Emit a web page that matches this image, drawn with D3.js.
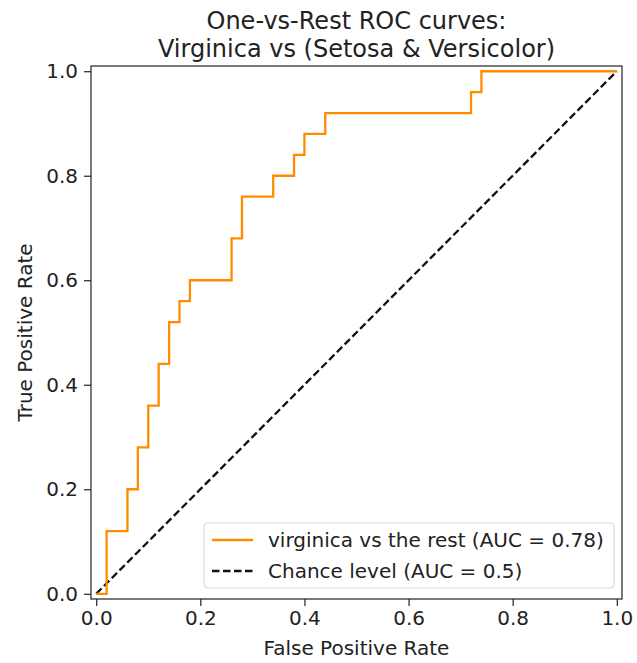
<!DOCTYPE html>
<html>
<head>
<meta charset="utf-8">
<script src="https://cdn.jsdelivr.net/npm/d3@7"></script>
<style>
  body { margin: 0; background: #fff; }
  svg text { font-family: 'DejaVu Sans', sans-serif; fill: #222; }
</style>
</head>
<body>
<svg class="roc" width="637" height="663"></svg>
<script>
/**********************
 Data (roc_curve output, virginica vs rest)
**********************/
var fpr = [0, 0.02, 0.02, 0.06, 0.06, 0.08, 0.08, 0.10, 0.10, 0.12, 0.12, 0.14, 0.14, 0.16, 0.16, 0.18, 0.18,
           0.26, 0.26, 0.28, 0.28, 0.34, 0.34, 0.38, 0.38, 0.40, 0.40, 0.44, 0.44, 0.72, 0.72, 0.74, 0.74, 1.0];
var tpr = [0, 0, 0.12, 0.12, 0.20, 0.20, 0.28, 0.28, 0.36, 0.36, 0.44, 0.44, 0.52, 0.52, 0.56, 0.56, 0.60,
           0.60, 0.68, 0.68, 0.76, 0.76, 0.80, 0.80, 0.84, 0.84, 0.88, 0.88, 0.92, 0.92, 0.96, 0.96, 1.0, 1.0];
var chanceX = [0, 1];
var chanceY = [0, 1];
var tickValues = [0, 0.2, 0.4, 0.6, 0.8, 1.0];
var legendLabels = ['virginica vs the rest (AUC = 0.78)', 'Chance level (AUC = 0.5)'];
var titleLines = ['One-vs-Rest ROC curves:', 'Virginica vs (Setosa & Versicolor)'];

/**********************
 Layout
**********************/
var svg = d3.select('svg.roc');
var padding = {t: 66, r: 15, b: 63, l: 91};
var chartWidth = 531;
var chartHeight = 533;
var fontSize = 20;

var xScale = d3.scaleLinear().domain([-0.01, 1.01]).range([0, chartWidth]);
var yScale = d3.scaleLinear().domain([-0.01, 1.01]).range([chartHeight, 0]);

var chartG = svg.append('g')
  .attr('transform', 'translate(' + [padding.l, padding.t] + ')');

// axes
var xAxisG = chartG.append('g')
  .attr('transform', 'translate(0,' + chartHeight + ')')
  .call(d3.axisBottom(xScale).tickValues(tickValues).tickFormat(d3.format('.1f')).tickSize(7).tickPadding(5));
var yAxisG = chartG.append('g')
  .call(d3.axisLeft(yScale).tickValues(tickValues).tickFormat(d3.format('.1f')).tickSize(7).tickPadding(6));

[xAxisG, yAxisG].forEach(function(g) {
  g.select('.domain').remove();
  g.selectAll('line').attr('stroke', '#222').attr('stroke-width', 1.2);
  g.selectAll('text').attr('font-size', fontSize).attr('font-family', 'DejaVu Sans').attr('fill', '#222');
});

// lines
var line = d3.line()
  .x(function(d) { return xScale(d[0]); })
  .y(function(d) { return yScale(d[1]); });

chartG.append('path')
  .attr('d', line(chanceX.map(function(x, i) { return [x, chanceY[i]]; })))
  .attr('fill', 'none')
  .attr('stroke', '#111')
  .attr('stroke-width', 2.3)
  .attr('stroke-dasharray', '7.5,3.5');

chartG.append('path')
  .attr('d', line(fpr.map(function(x, i) { return [x, tpr[i]]; })))
  .attr('fill', 'none')
  .attr('stroke', '#ff8c00')
  .attr('stroke-width', 2.3)
  .attr('stroke-linejoin', 'miter');

// frame
chartG.append('rect')
  .attr('width', chartWidth)
  .attr('height', chartHeight)
  .attr('fill', 'none')
  .attr('stroke', '#222')
  .attr('stroke-width', 1.2);

/**********************
 Legend
**********************/
var legendG = chartG.append('g')
  .attr('transform', 'translate(' + (chartWidth - 418) + ',' + (chartHeight - 76) + ')');

legendG.append('rect')
  .attr('width', 410)
  .attr('height', 65)
  .attr('rx', 4)
  .attr('fill', '#fff')
  .attr('fill-opacity', 0.8)
  .attr('stroke', '#d9d9d9')
  .attr('stroke-width', 1.2);

var legendItems = legendG.selectAll('g.item')
  .data(legendLabels)
  .enter()
  .append('g')
  .attr('class', 'item')
  .attr('transform', function(d, i) { return 'translate(8,' + (17 + i * 31) + ')'; });

legendItems.append('line')
  .attr('x1', 0).attr('x2', 41)
  .attr('stroke', function(d, i) { return i === 0 ? '#ff8c00' : '#111'; })
  .attr('stroke-width', 2.3)
  .attr('stroke-dasharray', function(d, i) { return i === 0 ? null : '7.5,3.5'; });

legendItems.append('text')
  .attr('x', 56)
  .attr('dy', '0.35em')
  .attr('font-size', fontSize)
  .text(function(d) { return d; });

/**********************
 Titles
**********************/
svg.selectAll('text.title')
  .data(titleLines)
  .enter()
  .append('text')
  .attr('class', 'title')
  .attr('x', padding.l + chartWidth / 2)
  .attr('y', function(d, i) { return 28.5 + i * 28; })
  .attr('text-anchor', 'middle')
  .attr('font-size', 24)
  .text(function(d) { return d; });

svg.append('text')
  .attr('x', padding.l + chartWidth / 2)
  .attr('y', 655)
  .attr('text-anchor', 'middle')
  .attr('font-size', fontSize)
  .text('False Positive Rate');

svg.append('text')
  .attr('transform', 'translate(32,' + (padding.t + chartHeight / 2) + ') rotate(-90)')
  .attr('text-anchor', 'middle')
  .attr('font-size', fontSize)
  .text('True Positive Rate');
</script>
</body>
</html>
